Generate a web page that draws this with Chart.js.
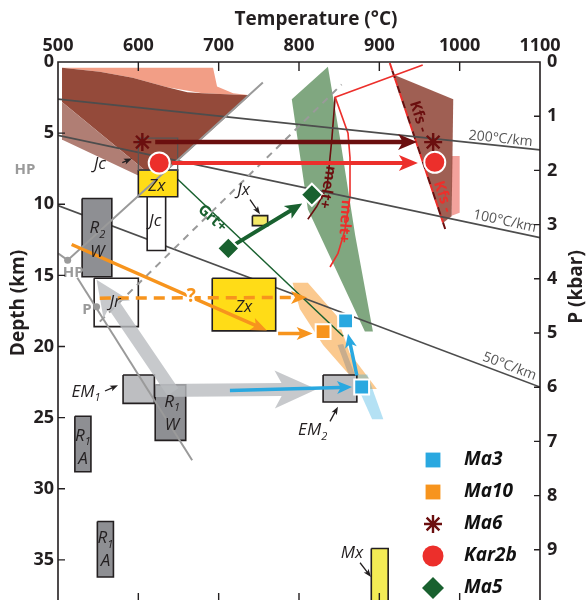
<!DOCTYPE html>
<html>
<head>
<meta charset="utf-8">
<script src="https://cdn.jsdelivr.net/npm/chart.js@4.4.1/dist/chart.umd.min.js"></script>
<style>
  html, body { margin: 0; padding: 0; background: #fff; overflow: hidden; }
  #wrap { width: 587px; height: 613px; }
</style>
</head>
<body>
<div id="wrap"><canvas id="ptChart" width="587" height="613"></canvas></div>
<script>
// axes
const tempTicks = [500, 600, 700, 800, 900, 1000, 1100];
const depthTicks = [0, 5, 10, 15, 20, 25, 30, 35];
const pressureTicks = [0, 1, 2, 3, 4, 5, 6, 7, 8, 9];
const kmPerKbar = 3.81;
const depthMax = 37.82;

// sample P-T estimates, [T (°C), depth (km)]
const ma3Points = [[858, 18.2], [878, 22.85]];
const ma10Points = [[830, 18.95]];
const ma6Points = [[605, 5.63], [967, 5.63]];
const kar2bPoints = [[626, 7.1], [969, 7.05]];
const ma5Points = [[712, 13.1], [816, 9.33]];

// sample paths (start -> tip)
const ma6Path = [[621, 5.63], [947, 5.63]];
const kar2bPath = [[642, 7.1], [948, 7.1]];
const ma5Path = [[712, 13.1], [804, 9.95]];
const ma10PathA = [[517, 12.83], [760, 18.87]];
const ma10PathB = [[552, 16.6], [810, 16.55]];
const ma10PathC = [[774, 19.08], [817, 19.08]];
const ma3PathA = [[714, 23.1], [866, 22.85]];
const ma3PathB = [[872, 22.03], [861, 19.1]];
const regionalPathA = [[621, 23.1], [822, 23.0]];
const regionalPathB = [[643, 23.2], [548, 15.3]];

// stability fields
const ma6Salmon = [[505, 0.41], [693, 0.41], [698, 1.72], [718, 2.2], [739, 2.33], [680, 2.2], [636, 1.78], [593, 1.1], [552, 0.69]];
const ma6Field = [[505, 0.41], [552, 0.69], [593, 1.1], [636, 1.78], [661, 2.13], [680, 2.2], [739, 2.33], [623, 8.3], [505, 2.81]];
const kar2bField = [[505, 2.81], [623, 8.3], [617, 8.44], [506, 5.49]];
const kfsField = [[918, 0.89], [992, 2.61], [990, 10.84], [979, 11.32]];
const kfsStripe = [[990, 6.6], [1000, 6.6], [1000, 10.6], [990, 10.8]];
const grtField = [[836, 0.34], [791, 2.61], [811, 10.36], [882, 18.94], [892, 18.94], [870, 12.2], [851, 5.35]];
const ma10Field = [[792, 15.51], [811, 15.51], [847, 17.84], [863, 20.45], [897, 22.99], [888, 22.99], [860, 21.82], [830, 19.9], [801, 17.36]];
const ma3Field = [[866, 21.96], [885, 21.96], [905, 25.12], [891, 25.12]];
const overlapField = [[848, 19.9], [855, 19.83], [870, 22.03], [863, 22.17]];

// reaction lines and geotherms
const geo200 = [[500, 2.61], [1100, 6.18]];
const geo100 = [[500, 5.15], [1100, 12.35]];
const geo50 = [[500, 10.09], [1100, 22.85]];
const meltRed = [[954, 0.21], [845, 2.47], [861, 5.01], [863.5, 6.73], [863.5, 9.47], [857, 11.87], [848.5, 13.45], [838.6, 14.41]];
const meltDark = [[845, 2.47], [841, 5.35], [835, 8.78], [822, 10.16], [811, 11.05]];
const kfsLine = [[913, 0.07], [982, 11.74]];
const grtLine = [[649, 8.24], [855, 19.28]];
const hpLineA = [[500, 13.45], [512, 13.93], [755, 1.44]];
const hpLineB = [[524, 15.17], [667, 28.0]];
const hpDashed = [[552, 18.25], [853, 1.58]];
const hpDots = [[512, 13.93], [548, 17.2]];

// published estimates, [Tmin, Tmax, depth top, depth bottom]
const jcOutline = [[600, 649, 5.35, 7.6]];
const jcBoxes = [[611, 634, 9.47, 13.25]];
const jrBoxes = [[545, 600, 15.2, 18.6]];
const zxBoxes = [[600, 649, 7.6, 9.47], [692, 771, 15.2, 18.9]];
const jxBoxes = [[742, 761, 10.8, 11.5]];
const mxBoxes = [[890, 911, 34.2, 38.5]];
const rBoxes = [[530, 567, 9.6, 15.1], [621, 659, 22.7, 26.6], [521, 541, 24.9, 28.8], [549, 569, 32.3, 36.2]];
const emBoxes = [[581, 620, 22, 24], [830, 872, 22, 23.9]];

// small pointer arrows
const pointers = [
  [[580, 7.07], [592, 6.79]],
  [[739, 9.68], [751.5, 10.7]],
  [[558.5, 23.13], [574.7, 22.72]],
  [[838.6, 25.26], [848.5, 24.23]],
  [[876, 35.2], [889.6, 36.2]]
];

// labels
const italicLabels = [['Jc', 552, 7.2], ['Zx', 623, 8.7], ['Jc', 621, 11.2], ['Jr', 571, 16.9], ['Zx', 731, 17.2],
  ['Jx', 731, 9.0], ['W', 549, 13.4], ['W', 642, 25.5], ['A', 531, 27.9], ['A', 559, 35.1], ['Mx', 866, 34.5]];
const subscriptLabels = [['R', '2', 549, 11.7], ['R', '1', 642, 23.9], ['R', '1', 531, 26.3], ['R', '1', 559, 33.5],
  ['EM', '1', 535, 23.2], ['EM', '2', 817, 25.9]];
const grayLabels = [['HP', 459, 7.6], ['HP', 519, 14.8], ['P', 536, 17.4]];
const geoLabels = [['200°C/km', 1051, 5.4], ['100°C/km', 1056, 11.2], ['50°C/km', 1062, 21.4]];
const reactionLabels = [['Grt+', 692, 11.0], ['melt+', 835, 8.8], ['melt+', 857, 11.2], ['Kfs -', 949, 3.84], ['Kfs -', 979, 9.47], ['?', 666, 16.5]];

const ink = '#231f20';
const FONT = '"Open Sans", "Noto Sans", sans-serif';
const maroon = '#6b0f0f', red = '#ec2f2b', green = '#19612f', orange = '#f7941d', blue = '#29a8e0';
const reactionStyle = [
  { color: green, angle: 42, size: 15 },
  { color: maroon, angle: 100, size: 15 },
  { color: red, angle: 94, size: 15 },
  { color: maroon, angle: 72, size: 15 },
  { color: red, angle: 72, size: 15 },
  { color: orange, angle: 0, size: 19 }
];

const xy = arr => arr.map(p => ({ x: p[0], y: p[1] }));
const rectOf = b => [[b[0], b[2]], [b[1], b[2]], [b[1], b[3]], [b[0], b[3]], [b[0], b[2]]];

function area(data, color, order) {
  return { data: xy(data.concat([data[0]])), borderWidth: 0, backgroundColor: color, fill: 'shape', pointRadius: 0, order: order };
}
function line(data, color, width, dash, order) {
  return { data: xy(data), borderColor: color, borderWidth: width, borderDash: dash || [], fill: false, pointRadius: 0, order: order };
}
function boxes(list, fillColor, edge, width, order) {
  return list.map(b => ({ data: xy(rectOf(b)), borderColor: edge, borderWidth: width, borderJoinStyle: 'miter',
    backgroundColor: fillColor, fill: fillColor ? 'shape' : false, pointRadius: 0, order: order }));
}
function arrow(data, color, width, head, headW, dash, order) {
  return { data: xy(data), showLine: false, pointRadius: 0, borderColor: color,
    arrow: { width: width, head: head, headW: headW, dash: dash || [] }, order: order };
}
function marker(data, label, style, color, radius) {
  const star = style === 'star';
  return { label: label, data: xy(data), showLine: false, pointStyle: style, pointRadius: radius,
    pointBackgroundColor: color, pointBorderColor: star ? color : '#fff', pointBorderWidth: star ? 2.4 : 2,
    order: 0, sample: true };
}

function drawArrow(ctx, pts, color, a) {
  const [x1, y1] = pts[0], [x2, y2] = pts[pts.length - 1];
  const ang = Math.atan2(y2 - y1, x2 - x1);
  const L = Math.hypot(x2 - x1, y2 - y1);
  const notch = a.head * 0.75;
  ctx.save();
  ctx.translate(x2, y2);
  ctx.rotate(ang);
  ctx.fillStyle = color;
  ctx.strokeStyle = color;
  if (a.dash.length) {
    ctx.lineWidth = a.width;
    ctx.setLineDash(a.dash);
    ctx.beginPath();
    ctx.moveTo(-L, 0);
    ctx.lineTo(-notch, 0);
    ctx.stroke();
    ctx.setLineDash([]);
    ctx.beginPath();
    ctx.moveTo(0, 0);
    ctx.lineTo(-a.head, -a.headW / 2);
    ctx.lineTo(-notch, 0);
    ctx.lineTo(-a.head, a.headW / 2);
    ctx.closePath();
    ctx.fill();
  } else {
    const w = a.width / 2;
    const xj = -a.head + (a.head - notch) * (1 - a.width / a.headW);
    ctx.beginPath();
    ctx.moveTo(-L, -w);
    ctx.lineTo(xj, -w);
    ctx.lineTo(-a.head, -a.headW / 2);
    ctx.lineTo(0, 0);
    ctx.lineTo(-a.head, a.headW / 2);
    ctx.lineTo(xj, w);
    ctx.lineTo(-L, w);
    ctx.closePath();
    ctx.fill();
  }
  ctx.restore();
}

function drawText(ctx, str, x, y, font, color, angle, halo) {
  ctx.save();
  ctx.translate(x, y);
  if (angle) ctx.rotate(angle * Math.PI / 180);
  ctx.font = font;
  ctx.textAlign = 'center';
  ctx.textBaseline = 'middle';
  if (halo) {
    ctx.lineWidth = 5;
    ctx.strokeStyle = '#fff';
    ctx.strokeText(str, 0, 0);
  }
  ctx.fillStyle = color;
  ctx.fillText(str, 0, 0);
  ctx.restore();
}

function drawSub(ctx, main, sub, x, y) {
  const f1 = 'italic 17px ' + FONT, f2 = 'italic 11px ' + FONT;
  ctx.save();
  ctx.font = f1; const w1 = ctx.measureText(main).width;
  ctx.font = f2; const w2 = ctx.measureText(sub).width;
  const x0 = x - (w1 + w2) / 2;
  ctx.fillStyle = ink;
  ctx.textAlign = 'left';
  ctx.textBaseline = 'middle';
  ctx.font = f1; ctx.fillText(main, x0, y);
  ctx.font = f2; ctx.fillText(sub, x0 + w1, y + 6);
  ctx.restore();
}

const overlay = {
  id: 'overlay',
  afterDatasetDraw(chart, args) {
    const ds = chart.data.datasets[args.index];
    if (!ds.arrow) return;
    const pts = args.meta.data.map(e => [e.x, e.y]);
    drawArrow(chart.ctx, pts, ds.borderColor, ds.arrow);
  },
  afterDraw(chart) {
    const ctx = chart.ctx, a = chart.chartArea;
    const sx = chart.scales.x, sy = chart.scales.y, sp = chart.scales.p;
    const P = (t, d) => [sx.getPixelForValue(t), sy.getPixelForValue(d)];

    // labels inside the plot
    italicLabels.forEach(l => { const [x, y] = P(l[1], l[2]); drawText(ctx, l[0], x, y, 'italic 17px ' + FONT, ink); });
    subscriptLabels.forEach(l => { const [x, y] = P(l[2], l[3]); drawSub(ctx, l[0], l[1], x, y); });
    grayLabels.forEach(l => { const [x, y] = P(l[1], l[2]); drawText(ctx, l[0], x, y, 'bold 15px ' + FONT, '#9a9a9a'); });
    const geoLines = [geo200, geo100, geo50];
    geoLabels.forEach((l, i) => {
      const g = geoLines[i];
      const [x1, y1] = P(g[0][0], g[0][1]), [x2, y2] = P(g[1][0], g[1][1]);
      const ang = Math.atan2(y2 - y1, x2 - x1) * 180 / Math.PI;
      const [x, y] = P(l[1], l[2]);
      drawText(ctx, l[0], x, y, '14px ' + FONT, '#555', ang);
    });
    reactionLabels.forEach((l, i) => {
      const s = reactionStyle[i];
      const [x, y] = P(l[1], l[2]);
      drawText(ctx, l[0], x, y, 'bold ' + s.size + 'px ' + FONT, s.color, s.angle, l[0] === '?');
    });

    // frame with inward ticks
    ctx.save();
    ctx.strokeStyle = ink;
    ctx.lineWidth = 1.6;
    ctx.beginPath();
    ctx.moveTo(a.left, a.bottom); ctx.lineTo(a.left, a.top); ctx.lineTo(a.right, a.top); ctx.lineTo(a.right, a.bottom);
    ctx.stroke();
    ctx.lineWidth = 1.4;
    ctx.beginPath();
    tempTicks.forEach(t => {
      if (t <= sx.min || t >= sx.max) return;
      const x = sx.getPixelForValue(t);
      ctx.moveTo(x, a.top); ctx.lineTo(x, a.top + 9);
      ctx.moveTo(x, a.bottom); ctx.lineTo(x, a.bottom - 7);
    });
    depthTicks.forEach(d => {
      if (d <= sy.min) return;
      const y = sy.getPixelForValue(d);
      ctx.moveTo(a.left, y); ctx.lineTo(a.left + 7, y);
    });
    pressureTicks.forEach(p => {
      if (p <= sp.min) return;
      const y = sp.getPixelForValue(p);
      ctx.moveTo(a.right, y); ctx.lineTo(a.right - 6, y);
    });
    ctx.stroke();

    ctx.fillStyle = ink;
    ctx.font = 'bold 18px ' + FONT;
    ctx.textBaseline = 'middle';
    ctx.textAlign = 'center';
    tempTicks.forEach(t => ctx.fillText(String(t), sx.getPixelForValue(t), a.top - 16));
    ctx.textAlign = 'right';
    depthTicks.forEach(d => ctx.fillText(String(d), a.left - 4, sy.getPixelForValue(d)));
    ctx.textAlign = 'left';
    pressureTicks.forEach(p => ctx.fillText(String(p), a.right + 7, sp.getPixelForValue(p)));

    ctx.font = 'bold 19px ' + FONT;
    ctx.textAlign = 'center';
    ctx.fillText('Temperature (°C)', 316, 20);
    ctx.save(); ctx.translate(19, 303); ctx.rotate(-Math.PI / 2); ctx.fillText('Depth (km)', 0, 0); ctx.restore();
    ctx.save(); ctx.translate(577, 287); ctx.rotate(-Math.PI / 2); ctx.fillText('P (kbar)', 0, 0); ctx.restore();
    ctx.restore();

    // legend
    const samples = chart.data.datasets.filter(d => d.sample);
    const order = ['Ma3', 'Ma10', 'Ma6', 'Kar2b', 'Ma5'];
    order.forEach((name, i) => {
      const ds = samples.find(d => d.label === name);
      const y = 460 + i * 32;
      const x = a.right - 107;
      ctx.save();
      ctx.fillStyle = ds.pointBackgroundColor;
      ctx.strokeStyle = ds.pointBorderColor;
      ctx.lineWidth = ds.pointBorderWidth;
      Chart.helpers.drawPoint(ctx, { pointStyle: ds.pointStyle, radius: ds.pointRadius, rotation: 0, borderWidth: ds.pointStyle === 'star' ? 2.4 : 0 }, x, y);
      ctx.restore();
      ctx.save();
      ctx.fillStyle = '#111';
      ctx.font = 'italic bold 19px ' + FONT;
      ctx.textAlign = 'left';
      ctx.textBaseline = 'middle';
      ctx.fillText(name, a.right - 76, y);
      ctx.restore();
    });
  }
};

const grayBand = 'rgba(185,187,191,0.8)';
const datasets = [
  marker(ma3Points, 'Ma3', 'rect', blue, 10.5),
  marker(ma10Points, 'Ma10', 'rect', orange, 10.5),
  marker(ma6Points, 'Ma6', 'star', maroon, 9),
  marker(kar2bPoints, 'Kar2b', 'circle', red, 10.5),
  marker(ma5Points, 'Ma5', 'rectRot', green, 11),

  arrow(ma6Path, maroon, 4.5, 19, 16, null, 1),
  arrow(kar2bPath, red, 4, 19, 16, null, 1),
  arrow(ma5Path, green, 4, 17, 15, null, 1),
  arrow(ma10PathA, orange, 3.5, 16, 13, null, 1),
  arrow(ma10PathB, orange, 3.5, 16, 13, [11, 7], 1),
  arrow(ma10PathC, orange, 3.5, 16, 13, null, 1),
  arrow(ma3PathA, blue, 3.5, 15, 13, null, 1),
  arrow(ma3PathB, blue, 3.5, 14, 12, null, 1),
  ...pointers.map(p => arrow(p, ink, 1.3, 8, 6, null, 1)),

  arrow(regionalPathA, grayBand, 13, 42, 38, null, 2),
  arrow(regionalPathB, grayBand, 13, 36, 32, null, 2),
  line(hpLineA, '#9a9a9a', 2, null, 2),
  line(hpLineB, '#9a9a9a', 2, null, 2),
  line(hpDashed, '#9a9a9a', 2, [7, 6], 2),
  { data: xy(hpDots), showLine: false, pointRadius: 3.5, pointBackgroundColor: '#9a9a9a', pointBorderWidth: 0, order: 2 },

  ...boxes(jcOutline, null, '#555', 1.2, 3),
  ...boxes(jcBoxes, '#fff', ink, 1.6, 3),
  ...boxes(jrBoxes, '#fff', ink, 1.6, 3),
  ...boxes(zxBoxes, '#ffdc17', ink, 1.6, 3),
  ...boxes(jxBoxes, '#f4e967', ink, 1.6, 3),
  ...boxes(mxBoxes, '#f4ec55', ink, 1.6, 3),
  ...boxes(rBoxes, '#8e8f93', ink, 1.6, 3),
  ...boxes(emBoxes, '#bdbec1', ink, 1.6, 3),

  line(geo200, '#4d4d4d', 1.7, null, 4),
  line(geo100, '#4d4d4d', 1.7, null, 4),
  line(geo50, '#4d4d4d', 1.7, null, 4),
  line(meltRed, red, 1.6, null, 4),
  line(meltDark, maroon, 1.6, null, 4),
  line(kfsLine, red, 2, [8, 8], 4),
  { ...line(kfsLine, maroon, 2, [8, 8], 4), borderDashOffset: 8 },
  line(grtLine, green, 1.5, null, 4),

  area(ma3Field, 'rgba(41,168,224,0.35)', 5),
  area(overlapField, 'rgba(140,140,140,0.45)', 5),
  area(ma10Field, 'rgba(247,148,29,0.5)', 5),
  area(grtField, 'rgba(60,120,60,0.65)', 5),
  area(kfsStripe, 'rgba(235,100,90,0.6)', 6),
  area(kfsField, 'rgba(135,55,40,0.8)', 5),
  area(kar2bField, '#b07e74', 5),
  area(ma6Field, '#944a3a', 5),
  area(ma6Salmon, '#f29e86', 6)
];

new Chart(document.getElementById('ptChart'), {
  type: 'line',
  data: { datasets: datasets },
  options: {
    responsive: false,
    animation: false,
    devicePixelRatio: 1,
    events: [],
    layout: { padding: { left: 58, top: 62, right: 47, bottom: 0 } },
    elements: { line: { tension: 0 } },
    plugins: { legend: { display: false }, tooltip: { enabled: false } },
    scales: {
      x: { type: 'linear', position: 'top', min: 500, max: 1100, display: false },
      y: { type: 'linear', reverse: true, min: 0, max: depthMax, display: false },
      p: { type: 'linear', position: 'right', reverse: true, min: 0, max: depthMax / kmPerKbar, display: false }
    }
  },
  plugins: [overlay]
});
</script>
</body>
</html>
